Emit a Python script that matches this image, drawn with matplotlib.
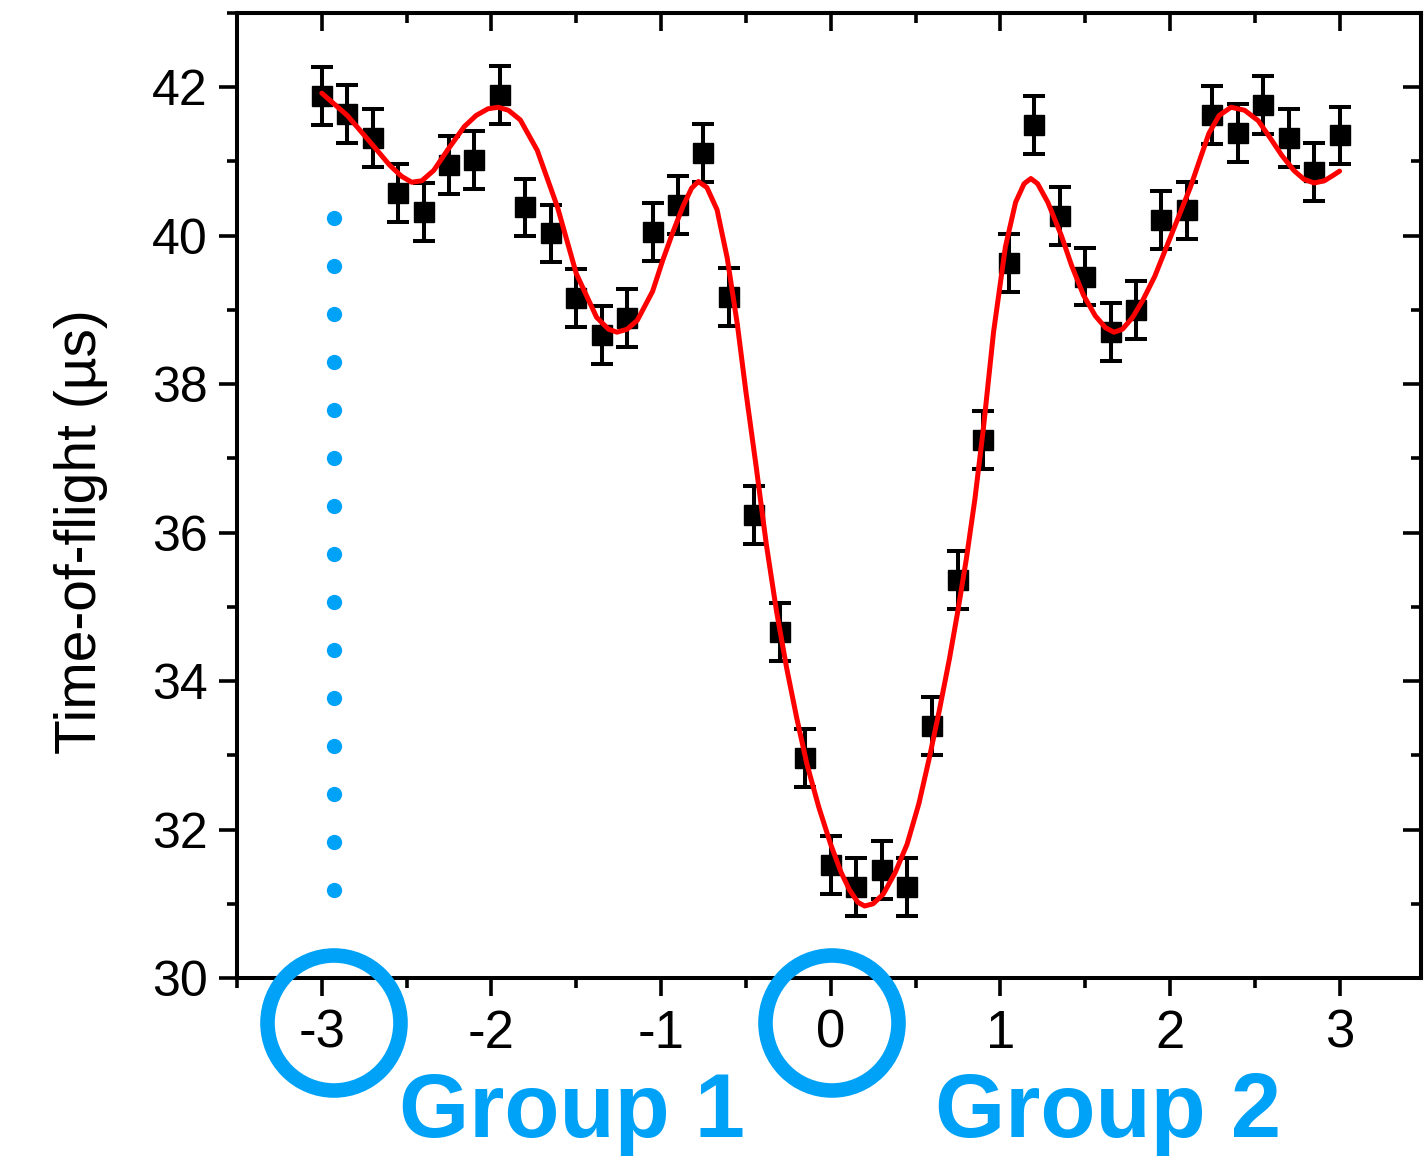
import numpy as np
import matplotlib
matplotlib.use("Agg")
import matplotlib.pyplot as plt
from matplotlib.patches import Ellipse
from matplotlib.transforms import IdentityTransform
from matplotlib.ticker import MultipleLocator

# ---- data ----
x_pts = [-3.00, -2.85, -2.70, -2.55, -2.40, -2.25, -2.10, -1.95, -1.80, -1.65,
         -1.50, -1.35, -1.20, -1.05, -0.90, -0.75, -0.60, -0.45, -0.30, -0.15,
         0.00, 0.15, 0.30, 0.45, 0.60, 0.75, 0.90, 1.05, 1.20, 1.35,
         1.50, 1.65, 1.80, 1.95, 2.10, 2.25, 2.40, 2.55, 2.70, 2.85, 3.00]
tof = [41.88, 41.64, 41.32, 40.58, 40.32, 40.95, 41.02, 41.89, 40.38, 40.03,
       39.16, 38.66, 38.89, 40.05, 40.41, 41.12, 39.17, 36.24, 34.66, 32.96,
       31.52, 31.23, 31.45, 31.23, 33.39, 35.36, 37.25, 39.63, 41.49, 40.26,
       39.45, 38.70, 39.00, 40.21, 40.34, 41.62, 41.38, 41.76, 41.31, 40.86, 41.35]
tof_err = [0.39] * 41

fit_x = [-3.00, -2.85, -2.70, -2.60, -2.53, -2.47, -2.41, -2.34, -2.26, -2.16, -2.09, -2.02,
         -1.96, -1.90, -1.83, -1.73, -1.61, -1.50, -1.38, -1.31, -1.26, -1.20, -1.14, -1.05,
         -0.99, -0.93, -0.87, -0.82, -0.78, -0.73, -0.67, -0.61, -0.55, -0.50,
         -0.44, -0.38, -0.32, -0.26, -0.20, -0.14, -0.07, 0.00, 0.06, 0.11,
         0.16, 0.20, 0.25, 0.31, 0.38, 0.45, 0.52, 0.58, 0.64, 0.70,
         0.75, 0.80, 0.85, 0.90, 0.96, 1.03, 1.09, 1.14, 1.18, 1.22,
         1.28, 1.36, 1.42, 1.49, 1.56, 1.62, 1.67, 1.72, 1.78, 1.84, 1.91, 1.98,
         2.05, 2.12, 2.18, 2.23, 2.29, 2.36, 2.44, 2.52, 2.59, 2.66,
         2.73, 2.79, 2.85, 2.91, 2.96, 3.00]
fit_y = [41.92, 41.62, 41.22, 40.95, 40.80, 40.72, 40.74, 40.88, 41.15, 41.47, 41.62, 41.71,
         41.73, 41.69, 41.56, 41.15, 40.38, 39.49, 38.90, 38.74, 38.70, 38.74, 38.86, 39.25,
         39.67, 40.05, 40.40, 40.64, 40.73, 40.65, 40.35, 39.70, 38.80, 37.90,
         36.90, 35.85, 34.95, 34.18, 33.50, 32.88, 32.30, 31.80, 31.43, 31.19,
         31.02, 30.97, 31.00, 31.13, 31.42, 31.80, 32.35, 32.95, 33.60, 34.30,
         34.95, 35.65, 36.45, 37.40, 38.70, 39.85, 40.45, 40.70, 40.77, 40.70,
         40.45, 40.00, 39.60, 39.20, 38.92, 38.76, 38.70, 38.74, 38.90, 39.13, 39.45, 39.85,
         40.25, 40.65, 41.05, 41.38, 41.62, 41.73, 41.69, 41.55, 41.32, 41.08,
         40.88, 40.76, 40.71, 40.74, 40.81, 40.87]

xtick_vals = [-3, -2, -1, 0, 1, 2, 3]
xtick_labels = ["-3", "-2", "-1", "0", "1", "2", "3"]
ytick_vals = [30, 32, 34, 36, 38, 40, 42]
ytick_labels = ["30", "32", "34", "36", "38", "40", "42"]
group_labels = ["Group 1", "Group 2"]

BLUE = "#00A2F8"
W, H, DPI = 1425, 1157, 100

plt.rcParams['font.family'] = ['Liberation Sans', 'DejaVu Sans']
fig = plt.figure(figsize=(W / DPI, H / DPI), dpi=DPI)
ax = fig.add_axes([237 / W, 1 - 978 / H, (1421 - 237) / W, (978 - 13) / H])

ax.errorbar(x_pts, tof, yerr=tof_err, fmt='s', color='black', ms=14,
            elinewidth=2.9, capsize=8, capthick=2.9, zorder=3)
ax.plot(fit_x, fit_y, color='#FF0000', lw=3.6, zorder=4,
        solid_joinstyle='round', solid_capstyle='round')

ax.set_xlim(-3.5, 3.48)
ax.set_ylim(30, 43)
ax.set_xticks(xtick_vals)
ax.set_xticklabels(xtick_labels)
ax.set_yticks(ytick_vals)
ax.set_yticklabels(ytick_labels)
ax.xaxis.set_minor_locator(MultipleLocator(0.5))
ax.yaxis.set_minor_locator(MultipleLocator(1))

for s in ax.spines.values():
    s.set_linewidth(2.9)

ax.tick_params(which='both', direction='out', top=False, right=False, width=2.6)
ax.tick_params(which='major', length=13)
ax.tick_params(which='minor', length=7)
ax.tick_params(axis='x', which='major', labelsize=38, pad=9)
ax.tick_params(axis='y', which='major', labelsize=36, pad=8)

# inward ticks on top and right
secx = ax.secondary_xaxis('top')
secx.set_xticks(xtick_vals)
secx.xaxis.set_minor_locator(MultipleLocator(0.5))
secx.tick_params(which='both', direction='in', labeltop=False, width=2.6)
secx.tick_params(which='major', length=13)
secx.tick_params(which='minor', length=7)
secx.spines['top'].set_linewidth(2.9)
secy = ax.secondary_yaxis('right')
secy.set_yticks(ytick_vals)
secy.yaxis.set_minor_locator(MultipleLocator(1))
secy.tick_params(which='both', direction='in', labelright=False, width=2.6)
secy.tick_params(which='major', length=13)
secy.tick_params(which='minor', length=7)
secy.spines['right'].set_linewidth(2.9)

fig.text(81 / W, 1 - 532 / H, "Time-of-flight (µs)", rotation=90,
         ha='center', va='center', fontsize=41)

# annotations: dotted vertical line, circles and group labels
dot_x = -3 + (334 - 322) / 169.67
dot_y = np.linspace(30 + (978 - 218) / 74.25, 30 + (978 - 890) / 74.25, 15)
ax.plot([dot_x] * len(dot_y), dot_y, 'o', color=BLUE, ms=11, mec='none',
        zorder=2, clip_on=False)

for cx in (334, 832):
    e = Ellipse((cx, H - 1023), 133, 135, fill=False, edgecolor=BLUE,
                lw=10.5, transform=IdentityTransform())
    fig.patches.append(e)

fig.text(399 / W, 1 - 1137 / H, group_labels[0], color=BLUE, fontsize=65,
         fontweight='bold', ha='left', va='baseline')
fig.text(935 / W, 1 - 1137 / H, group_labels[1], color=BLUE, fontsize=65,
         fontweight='bold', ha='left', va='baseline')

fig.savefig("out.png", dpi=DPI)
